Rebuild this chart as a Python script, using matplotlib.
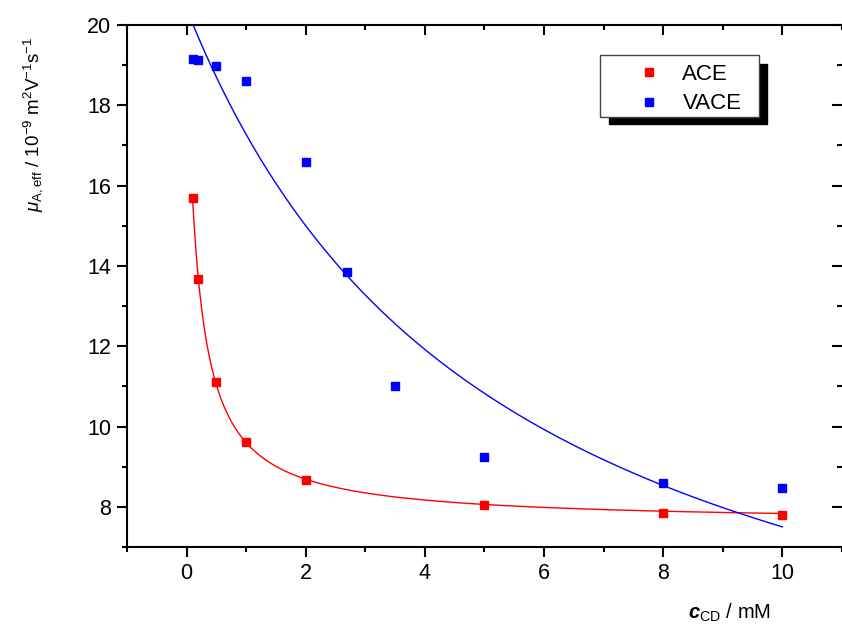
import numpy as np
import matplotlib
matplotlib.use("Agg")
import matplotlib.pyplot as plt
from matplotlib.patches import Rectangle
from matplotlib.lines import Line2D

plt.rcParams['font.family'] = ['Liberation Sans', 'DejaVu Sans']
plt.rcParams['mathtext.fontset'] = 'custom'
plt.rcParams['mathtext.rm'] = 'Liberation Sans'
plt.rcParams['mathtext.it'] = 'Liberation Sans:italic'
plt.rcParams['mathtext.bf'] = 'Liberation Sans:bold'
plt.rcParams['mathtext.bfit'] = 'Liberation Sans:italic:bold'

# Data
ace_c = [0.1, 0.2, 0.5, 1, 2, 5, 8, 10]
ace_mu = [15.7, 13.67, 11.1, 9.62, 8.67, 8.04, 7.85, 7.79]
vace_c = [0.1, 0.2, 0.5, 1, 2, 2.7, 3.5, 5, 8, 10]
vace_mu = [19.15, 19.12, 18.98, 18.6, 16.6, 13.85, 11.0, 9.25, 8.6, 8.48]

# Fit parameters (binding isotherm: mu = (mu_f + mu_c*K*c)/(1+K*c))
ace_fit = dict(mu_f=19.85, mu_c=7.6, K=5.13, c0=0.1)
vace_fit = dict(mu_f=20.4, mu_c=0.64, K=0.188, c0=0.0)

def isotherm(c, mu_f, mu_c, K):
    return (mu_f + mu_c * K * c) / (1 + K * c)

fig = plt.figure(figsize=(8.42, 6.3), dpi=100)
ax = fig.add_axes([127/842, 1-547/630, 715/842, 522/630])

for p, col in [(ace_fit, 'red'), (vace_fit, 'blue')]:
    cc = np.linspace(p['c0'], 10, 400)
    ax.plot(cc, isotherm(cc, p['mu_f'], p['mu_c'], p['K']), color=col, lw=1.0)

ax.plot(ace_c, ace_mu, 's', color='red', ms=6, ls='none')
ax.plot(vace_c, vace_mu, 's', color='blue', ms=6, ls='none')

ax.set_xlim(-1, 11)
ax.set_ylim(7, 20)
ax.set_xticks([0, 2, 4, 6, 8, 10])
ax.set_xticks([-1, 1, 3, 5, 7, 9, 11], minor=True)
ax.set_yticks([8, 10, 12, 14, 16, 18, 20])
ax.set_yticks([7, 9, 11, 13, 15, 17, 19], minor=True)

for s in ax.spines.values():
    s.set_linewidth(1.5)
ax.spines['right'].set_visible(False)

ax.tick_params(axis='both', which='major', direction='out', length=7.2, width=1.5,
               labelsize=15.5, pad=4)
ax.tick_params(axis='both', which='minor', direction='out', length=3.8, width=1.5)
ax.tick_params(top=True, right=True, which='both')
# top/right ticks inward
for t in ax.xaxis.get_major_ticks() + ax.xaxis.get_minor_ticks():
    t.tick2line.set_marker(3)  # TICKDOWN
for t in ax.yaxis.get_major_ticks() + ax.yaxis.get_minor_ticks():
    t.tick2line.set_marker(0)  # TICKLEFT

ax.set_ylabel(r'$\mathit{\mu}_{\mathrm{A,eff}}$ / 10$^{-9}$ m$^2$V$^{-1}$s$^{-1}$', fontsize=13.5)
ax.yaxis.set_label_coords(-0.115, 0.81)
ax.set_xlabel(r'$\boldsymbol{c}_{\mathrm{CD}}$ / mM', fontsize=14.5)
ax.xaxis.set_label_coords(0.842, -0.105)

# Legend frame with shadow
fig.patches.append(Rectangle((609/842, 1-124/630), 158/842, 60/630,
                             transform=fig.transFigure, facecolor='black', edgecolor='black', zorder=5))
fig.patches.append(Rectangle((600/842, 1-117/630), 159/842, 62/630,
                             transform=fig.transFigure, facecolor='white', edgecolor='#444444', lw=1.0, zorder=6))
handles = [Line2D([], [], marker='s', color='red', ls='none', ms=5.5),
           Line2D([], [], marker='s', color='blue', ls='none', ms=5.5)]
leg = fig.legend(handles, ['ACE', 'VACE'], loc='upper left',
                 bbox_to_anchor=(638/842, 1-64/630), frameon=False, fontsize=16,
                 handlelength=1.0, handletextpad=1.0, labelspacing=0.38,
                 borderpad=0, borderaxespad=0)
leg.set_zorder(7)

fig.savefig('out.png', dpi=100)
